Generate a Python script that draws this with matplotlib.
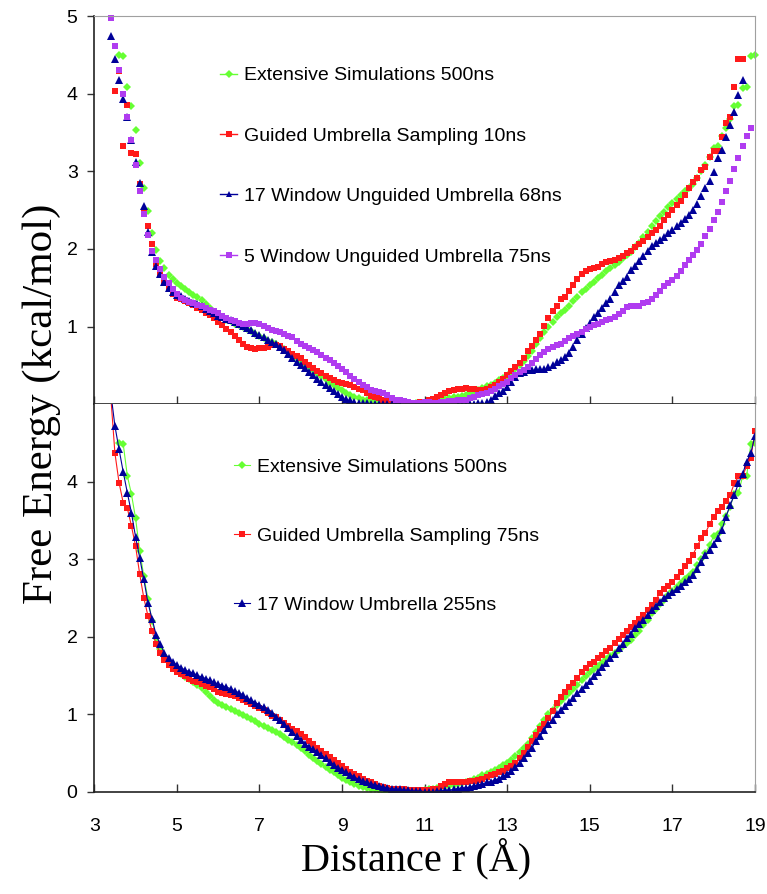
import matplotlib
matplotlib.use("Agg")
import matplotlib.pyplot as plt
from matplotlib.lines import Line2D
from matplotlib import font_manager
import numpy as np

# free energy profiles, kcal/mol, sampled every 0.1 A
# reference curve (same run shown in both panels), starts at r = 3.6
ext_500ns = [
    4.50, 4.49, 4.08, 3.84, 3.53, 3.11, 2.78, 2.49, 2.20, 1.99,
    1.84, 1.75, 1.67, 1.61, 1.56, 1.52, 1.48, 1.45, 1.41, 1.38,
    1.34, 1.29, 1.24, 1.19, 1.15, 1.12, 1.09, 1.07, 1.04, 1.02,
    0.99, 0.97, 0.94, 0.91, 0.88, 0.85, 0.82, 0.80, 0.77, 0.74,
    0.71, 0.67, 0.64, 0.60, 0.56, 0.52, 0.48, 0.44, 0.40, 0.36,
    0.32, 0.28, 0.25, 0.21, 0.18, 0.15, 0.12, 0.10, 0.08, 0.06,
    0.05, 0.04, 0.03, 0.02, 0.01, 0.01, 0.00, 0.00, 0.00, 0.00,
    0.00, 0.00, 0.01, 0.01, 0.02, 0.03, 0.04, 0.05, 0.06, 0.07,
    0.08, 0.09, 0.10, 0.11, 0.12, 0.14, 0.16, 0.18, 0.21, 0.23,
    0.25, 0.28, 0.31, 0.34, 0.37, 0.41, 0.46, 0.51, 0.56, 0.62,
    0.69, 0.77, 0.85, 0.93, 1.00, 1.06, 1.12, 1.17, 1.22, 1.27,
    1.33, 1.38, 1.44, 1.49, 1.54, 1.58, 1.62, 1.66, 1.71, 1.75,
    1.79, 1.83, 1.88, 1.92, 1.96, 2.02, 2.08, 2.15, 2.22, 2.30,
    2.36, 2.42, 2.48, 2.54, 2.59, 2.64, 2.69, 2.74, 2.79, 2.84,
    2.92, 3.00, 3.08, 3.18, 3.30, 3.32, 3.45, 3.56, 3.68, 3.84,
    3.85, 4.07, 4.08, 4.49, 4.50,
]

# top panel, starts at r = 3.5
guided_10ns = [
    4.04, 4.29, 3.32, 3.85, 3.24, 3.22, 2.84, 2.47, 2.30, 2.06,
    1.81, 1.66, 1.56, 1.49, 1.42, 1.37, 1.35, 1.33, 1.31, 1.28,
    1.24, 1.21, 1.18, 1.15, 1.11, 1.06, 1.02, 0.97, 0.93, 0.88,
    0.83, 0.78, 0.74, 0.72, 0.71, 0.72, 0.73, 0.74, 0.76, 0.76,
    0.75, 0.71, 0.68, 0.65, 0.62, 0.59, 0.55, 0.51, 0.47, 0.43,
    0.40, 0.37, 0.34, 0.31, 0.29, 0.27, 0.26, 0.25, 0.22, 0.20,
    0.18, 0.14, 0.11, 0.09, 0.08, 0.06, 0.04, 0.03, 0.03, 0.02,
    0.03, 0.03, 0.02, 0.02, 0.03, 0.03, 0.05, 0.07, 0.10, 0.12,
    0.15, 0.17, 0.19, 0.20, 0.20, 0.21, 0.20, 0.20, 0.19, 0.19,
    0.20, 0.22, 0.25, 0.29, 0.33, 0.38, 0.43, 0.48, 0.53, 0.60,
    0.68, 0.75, 0.83, 0.91, 1.01, 1.11, 1.20, 1.27, 1.35, 1.38,
    1.46, 1.54, 1.61, 1.68, 1.72, 1.74, 1.76, 1.77, 1.80, 1.83,
    1.84, 1.86, 1.89, 1.91, 1.95, 1.98, 2.02, 2.06, 2.10, 2.15,
    2.20, 2.25, 2.30, 2.37, 2.44, 2.50, 2.56, 2.62, 2.70, 2.78,
    2.86, 2.92, 3.02, 3.06, 3.19, 3.26, 3.26, 3.44, 3.62, 3.70,
    4.08, 4.45, 4.44,
]

# top panel, starts at r = 3.4
win17_68ns = [
    4.74, 4.45, 4.18, 3.93, 3.70, 3.40, 3.12, 2.85, 2.55, 2.22,
    1.96, 1.78, 1.68, 1.58, 1.50, 1.45, 1.41, 1.39, 1.36, 1.33,
    1.31, 1.29, 1.26, 1.23, 1.20, 1.17, 1.14, 1.12, 1.10, 1.08,
    1.06, 1.04, 1.01, 0.98, 0.95, 0.92, 0.89, 0.86, 0.83, 0.80,
    0.77, 0.74, 0.70, 0.65, 0.60, 0.55, 0.51, 0.47, 0.42, 0.38,
    0.33, 0.29, 0.25, 0.21, 0.17, 0.13, 0.10, 0.07, 0.05, 0.03,
    0.02, 0.01, 0.01, 0.00, 0.00, 0.00, 0.00, 0.00, 0.00, 0.00,
    0.00, 0.00, 0.00, 0.00, 0.00, 0.00, 0.00, 0.00, 0.00, 0.00,
    0.00, 0.00, 0.00, 0.00, 0.00, 0.00, 0.00, 0.00, 0.00, 0.01,
    0.02, 0.03, 0.06, 0.11, 0.15, 0.17, 0.22, 0.29, 0.35, 0.40,
    0.42, 0.44, 0.44, 0.45, 0.45, 0.46, 0.48, 0.51, 0.54, 0.57,
    0.61, 0.66, 0.74, 0.83, 0.90, 0.98, 1.05, 1.13, 1.18, 1.24,
    1.30, 1.36, 1.45, 1.54, 1.59, 1.64, 1.73, 1.78, 1.84, 1.91,
    1.98, 2.04, 2.08, 2.12, 2.16, 2.20, 2.24, 2.29, 2.34, 2.39,
    2.44, 2.50, 2.58, 2.68, 2.78, 2.88, 2.99, 3.17, 3.27, 3.44,
    3.59, 3.77, 3.98, 4.17,
]

# top panel, starts at r = 3.4
win5_75ns = [
    4.98, 4.62, 4.30, 4.00, 3.70, 3.40, 3.08, 2.75, 2.45, 2.18,
    1.98, 1.86, 1.74, 1.64, 1.56, 1.49, 1.42, 1.37, 1.34, 1.32,
    1.30, 1.28, 1.26, 1.24, 1.22, 1.20, 1.17, 1.14, 1.11, 1.09,
    1.07, 1.05, 1.04, 1.04, 1.05, 1.05, 1.04, 1.01, 0.98, 0.96,
    0.94, 0.93, 0.90, 0.88, 0.86, 0.82, 0.78, 0.75, 0.72, 0.70,
    0.67, 0.63, 0.60, 0.57, 0.53, 0.49, 0.45, 0.41, 0.37, 0.33,
    0.29, 0.25, 0.22, 0.19, 0.17, 0.16, 0.14, 0.12, 0.08, 0.06,
    0.05, 0.04, 0.03, 0.02, 0.02, 0.02, 0.03, 0.03, 0.02, 0.02,
    0.03, 0.03, 0.04, 0.04, 0.05, 0.05, 0.06, 0.08, 0.10, 0.12,
    0.13, 0.15, 0.17, 0.20, 0.23, 0.26, 0.29, 0.34, 0.38, 0.41,
    0.44, 0.48, 0.53, 0.58, 0.63, 0.67, 0.71, 0.74, 0.76, 0.78,
    0.81, 0.85, 0.88, 0.91, 0.93, 0.97, 1.00, 1.02, 1.04, 1.06,
    1.08, 1.10, 1.13, 1.16, 1.20, 1.25, 1.27, 1.27, 1.27, 1.30,
    1.32, 1.36, 1.41, 1.46, 1.52, 1.56, 1.60, 1.65, 1.72, 1.79,
    1.86, 1.92, 1.99, 2.07, 2.17, 2.26, 2.37, 2.48, 2.61, 2.75,
    2.88, 3.03, 3.17, 3.32, 3.46, 3.56,
]

# bottom panel, starts at r = 3.4
guided_75ns = [
    5.10, 4.37, 3.99, 3.73, 3.66, 3.43, 3.17, 2.81, 2.50, 2.27,
    2.07, 1.90, 1.79, 1.70, 1.64, 1.59, 1.55, 1.52, 1.49, 1.46,
    1.43, 1.41, 1.39, 1.37, 1.35, 1.32, 1.29, 1.28, 1.26, 1.25,
    1.23, 1.21, 1.19, 1.16, 1.13, 1.11, 1.08, 1.05, 1.01, 0.98,
    0.96, 0.93, 0.89, 0.85, 0.81, 0.78, 0.74, 0.70, 0.66, 0.61,
    0.57, 0.53, 0.49, 0.45, 0.41, 0.37, 0.33, 0.29, 0.26, 0.23,
    0.20, 0.17, 0.14, 0.12, 0.10, 0.08, 0.06, 0.05, 0.04, 0.04,
    0.03, 0.03, 0.02, 0.02, 0.02, 0.02, 0.02, 0.02, 0.03, 0.04,
    0.07, 0.10, 0.12, 0.13, 0.13, 0.13, 0.13, 0.14, 0.14, 0.15,
    0.17, 0.19, 0.21, 0.23, 0.25, 0.27, 0.30, 0.33, 0.37, 0.43,
    0.50, 0.58, 0.65, 0.73, 0.81, 0.87, 0.95, 1.04, 1.14, 1.22,
    1.29, 1.35, 1.40, 1.47, 1.54, 1.60, 1.65, 1.68, 1.72, 1.76,
    1.81, 1.86, 1.92, 1.97, 2.02, 2.07, 2.12, 2.18, 2.23, 2.28,
    2.34, 2.41, 2.48, 2.56, 2.61, 2.66, 2.71, 2.77, 2.84, 2.91,
    2.98, 3.06, 3.17, 3.27, 3.34, 3.45, 3.55, 3.62, 3.68, 3.75,
    3.83, 3.98, 4.07, 4.08, 4.20, 4.31, 4.65,
]

# bottom panel, starts at r = 3.4
win17_255ns = [
    5.15, 4.72, 4.42, 4.13, 3.86, 3.60, 3.29, 3.02, 2.74, 2.44,
    2.23, 2.02, 1.90, 1.79, 1.72, 1.68, 1.63, 1.60, 1.57, 1.55,
    1.53, 1.50, 1.48, 1.46, 1.44, 1.41, 1.39, 1.37, 1.35, 1.33,
    1.30, 1.28, 1.25, 1.21, 1.18, 1.15, 1.12, 1.09, 1.05, 1.01,
    0.97, 0.93, 0.87, 0.82, 0.77, 0.72, 0.67, 0.62, 0.58, 0.55,
    0.51, 0.47, 0.43, 0.39, 0.35, 0.31, 0.28, 0.25, 0.22, 0.19,
    0.16, 0.14, 0.12, 0.10, 0.09, 0.07, 0.06, 0.05, 0.04, 0.03,
    0.03, 0.02, 0.02, 0.01, 0.01, 0.01, 0.00, 0.00, 0.00, 0.01,
    0.01, 0.02, 0.02, 0.03, 0.04, 0.05, 0.05, 0.06, 0.08, 0.09,
    0.10, 0.12, 0.13, 0.15, 0.17, 0.20, 0.23, 0.27, 0.32, 0.37,
    0.43, 0.50, 0.57, 0.65, 0.72, 0.80, 0.87, 0.93, 1.00, 1.06,
    1.10, 1.16, 1.21, 1.27, 1.32, 1.38, 1.43, 1.49, 1.55, 1.61,
    1.66, 1.72, 1.78, 1.85, 1.91, 1.98, 2.04, 2.11, 2.16, 2.22,
    2.28, 2.34, 2.40, 2.45, 2.50, 2.54, 2.58, 2.62, 2.66, 2.70,
    2.74, 2.80, 2.88, 2.96, 3.05, 3.12, 3.20, 3.28, 3.38, 3.55,
    3.70, 3.83, 3.98, 4.10, 4.26, 4.37, 4.59,
]

top_labels = ["Extensive Simulations 500ns", "Guided Umbrella Sampling 10ns",
              "17 Window Unguided Umbrella 68ns", "5 Window Unguided Umbrella 75ns"]
bot_labels = ["Extensive Simulations 500ns", "Guided Umbrella Sampling 75ns",
              "17 Window Umbrella 255ns"]
xticks = [3, 5, 7, 9, 11, 13, 15, 17, 19]

GREEN = "#66ff33"
RED = "#ff1a1a"
BLUE = "#000099"
PURPLE = "#b03cf0"


def dist(start, vals):
    return np.round(start + 0.1 * np.arange(len(vals)), 1)


names = {f.name for f in font_manager.fontManager.ttflist}
if "Liberation Sans Narrow" in names:
    sans, tsize, lsize = "Liberation Sans Narrow", 15, 17
else:
    sans, tsize, lsize = "Liberation Sans", 14, 14
serif = "Liberation Serif"

fig = plt.figure(figsize=(7.67, 8.94), dpi=100)
ax1 = fig.add_axes([0.1229, 0.5478, 0.8614, 0.4343])
ax2 = fig.add_axes([0.1229, 0.1144, 0.8614, 0.4334])

# top panel: markers only
mk = dict(linestyle="none", markeredgewidth=0, clip_on=False)
ax1.plot(dist(3.6, ext_500ns), ext_500ns, marker="D", ms=4.3, color=GREEN, **mk)
ax1.plot(dist(3.5, guided_10ns), guided_10ns, marker="s", ms=5, color=RED, **mk)
ax1.plot(dist(3.4, win17_68ns), win17_68ns, marker="^", ms=5.5, color=BLUE, **mk)
ax1.plot(dist(3.4, win5_75ns), win5_75ns, marker="s", ms=4, color=PURPLE, **mk)

handles = [Line2D([], [], color=GREEN, marker="D", ms=4, mew=0, lw=1),
           Line2D([], [], color=RED, marker="s", ms=4.5, mew=0, lw=1),
           Line2D([], [], color=BLUE, marker="^", ms=5, mew=0, lw=1),
           Line2D([], [], color=PURPLE, marker="s", ms=4, mew=0, lw=1)]
ax1.legend(handles, top_labels, loc="upper left", bbox_to_anchor=(0.191, 0.869),
           frameon=False, borderpad=0, borderaxespad=0, handlelength=0.85,
           handletextpad=0.35, labelspacing=2.2,
           prop={"family": sans, "size": lsize})

# bottom panel: markers joined by thin lines
ln = dict(lw=0.8, markeredgewidth=0)
ax2.plot(dist(3.6, ext_500ns), ext_500ns, marker="D", ms=4.3, color=GREEN,
         label=bot_labels[0], **ln)
ax2.plot(dist(3.4, guided_75ns), guided_75ns, marker="s", ms=5, color=RED,
         label=bot_labels[1], **ln)
ax2.plot(dist(3.4, win17_255ns), win17_255ns, marker="^", ms=5.5, color=BLUE,
         label=bot_labels[2], **ln)
ax2.legend(loc="upper left", bbox_to_anchor=(0.211, 0.861), frameon=False,
           borderpad=0, borderaxespad=0, handlelength=0.85, handletextpad=0.35,
           labelspacing=2.65, prop={"family": sans, "size": lsize})

for ax in (ax1, ax2):
    ax.set_xlim(3, 19)
    ax.set_ylim(0, 5)
    ax.set_xticks(xticks)
    ax.tick_params(axis="x", direction="in", length=6, width=1, color="#333333",
                   pad=19, labelsize=tsize)
    ax.tick_params(axis="y", direction="out", length=5, width=1, color="#333333",
                   pad=7, labelsize=tsize)
    for lab in ax.get_xticklabels() + ax.get_yticklabels():
        lab.set_fontfamily(sans)
    ax.spines["left"].set_color("#222222")
    ax.spines["bottom"].set_color("#222222")
    ax.spines["left"].set_linewidth(1.2)
    ax.spines["bottom"].set_linewidth(1.2)
    ax.spines["top"].set_color("#a0a0a0")
    ax.spines["right"].set_color("#a0a0a0")

ax1.set_yticks([1, 2, 3, 4, 5])
ax1.tick_params(axis="x", labelbottom=False)
ax2.set_yticks([0, 1, 2, 3, 4])
ax2.spines["top"].set_visible(False)

fig.text(0.054, 0.548, "Free Energy (kcal/mol)", rotation=90, ha="center",
         va="center", family=serif, fontsize=31)
fig.text(0.543, 0.040, "Distance r (\u00c5)", ha="center", va="center",
         family=serif, fontsize=29)

fig.savefig("out.png", dpi=100)
